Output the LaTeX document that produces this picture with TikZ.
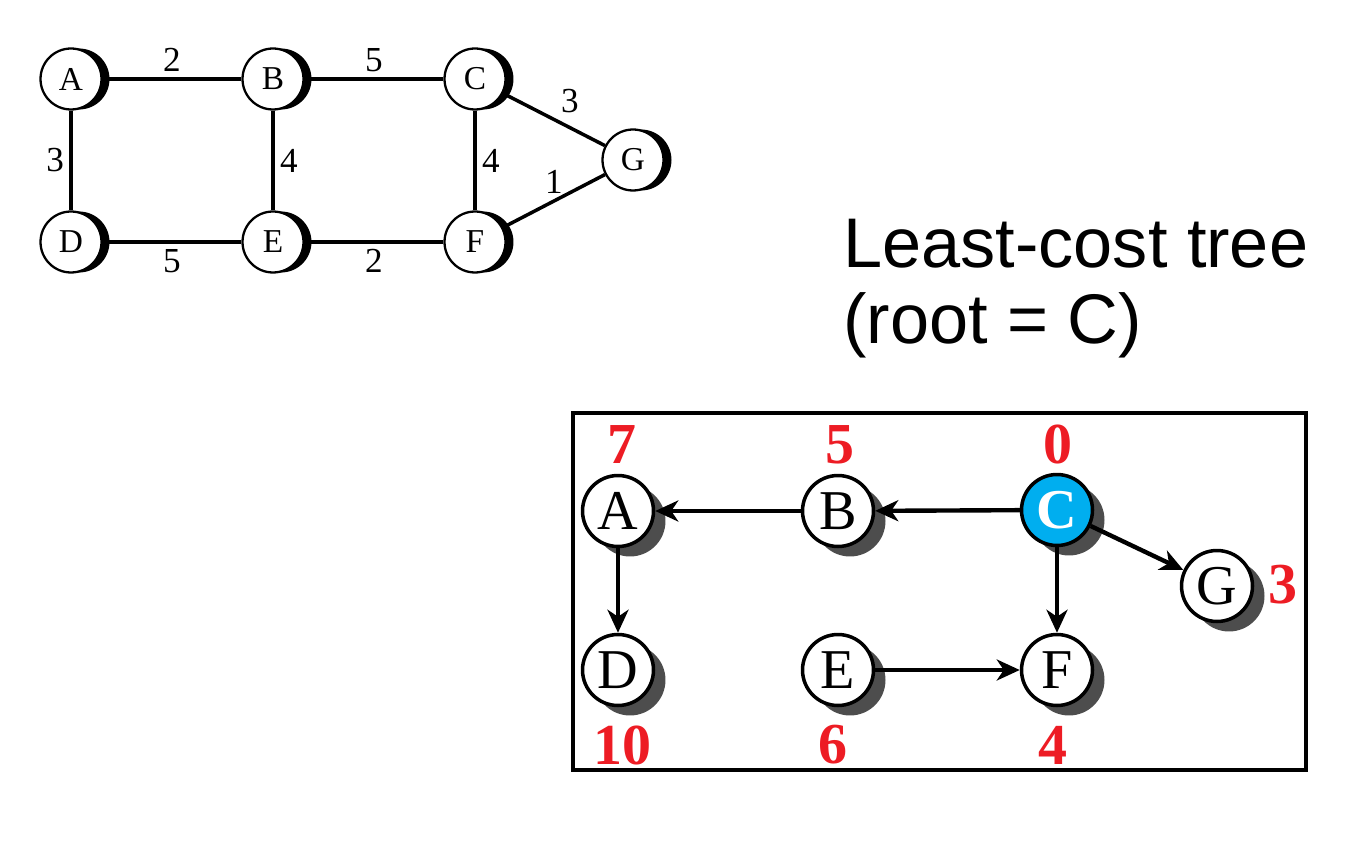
\documentclass[tikz,border=0pt]{standalone}
\usepackage{fontspec}
\setmainfont{Liberation Serif}
\newfontfamily\titlefont{Liberation Sans}
\usetikzlibrary{arrows.meta, positioning, shadows}
\definecolor{rootblue}{RGB}{0,174,239}
\definecolor{costred}{RGB}{237,28,36}
\definecolor{shade}{RGB}{77,77,77}

\tikzset{
  gnode/.style={circle, draw, line width=1.3pt, fill=white, minimum size=1.22cm, inner sep=0pt,
    font=\fontsize{19}{19}\selectfont,
    drop shadow={shadow xshift=0.16cm, shadow yshift=0cm, fill=black, opacity=1}},
  tnode/.style={circle, draw, line width=2pt, fill=white, minimum size=1.42cm, inner sep=0pt,
    font=\fontsize{32}{32}\selectfont,
    drop shadow={shadow xshift=0.24cm, shadow yshift=-0.2cm, fill=shade, opacity=1}},
  wlabel/.style={font=\fontsize{20}{20}\selectfont, inner sep=3pt},
  cost/.style={text=costred, font=\fontsize{33}{33}\selectfont\bfseries},
  link/.style={line width=2pt},
  tlink/.style={line width=2.5pt, -{Stealth[length=0.46cm, width=0.42cm, inset=0.14cm]}},
}

\begin{document}
\begin{tikzpicture}[x=0.02cm, y=-0.02cm]
\useasboundingbox (0,0) rectangle (1352,858);

% network
\node[gnode] (A) at (71,79) {A};
\node[gnode] (B) at (273,79) {B};
\node[gnode] (C) at (475,79) {C};
\node[gnode] (D) at (71,242) {D};
\node[gnode] (E) at (273,242) {E};
\node[gnode] (F) at (475,242) {F};
\node[gnode] (G) at (633,160) {G};

\draw[link] (A) -- node[wlabel, above] {2} (B);
\draw[link] (B) -- node[wlabel, above] {5} (C);
\draw[link] (A) -- node[wlabel, left] {3} (D);
\draw[link] (B) -- node[wlabel, right] {4} (E);
\draw[link] (C) -- node[wlabel, right] {4} (F);
\draw[link] (D) -- node[wlabel, below] {5} (E);
\draw[link] (E) -- node[wlabel, below] {2} (F);
\draw[link] (C) -- node[wlabel, above right] {3} (G);
\draw[link] (F) -- node[wlabel, above, pos=0.5] {1} (G);

% title
\node[anchor=base west, font=\titlefont\fontsize{40}{40}\selectfont, inner sep=0pt] (title1) at (843,268) {Least-cost tree};
\node[anchor=base west, font=\titlefont\fontsize{40}{40}\selectfont, inner sep=0pt] (title2) at (843,343) {(root = C)};

% tree
\draw[line width=2pt] (573,413) rectangle (1306,770);
\node[tnode] (tA) at (618,511) {A};
\node[tnode] (tB) at (838,511) {B};
\node[tnode, fill=rootblue, text=white, font=\fontsize{32}{32}\selectfont\bfseries] (tC) at (1057,510) {C};
\node[tnode] (tD) at (618,670) {D};
\node[tnode] (tE) at (838,670) {E};
\node[tnode] (tF) at (1057,670) {F};
\node[tnode] (tG) at (1217,586) {G};

\draw[tlink] (tC) -- (tB);
\draw[tlink] (tB) -- (tA);
\draw[tlink] (tA) -- (tD);
\draw[tlink] (tC) -- (tF);
\draw[tlink] (tC) -- (tG);
\draw[tlink] (tE) -- (tF);

\node[cost] (cA) at (622,445) {7};
\node[cost] (cB) at (840,445) {5};
\node[cost] (cC) at (1058,445) {0};
\node[cost] (cG) at (1283,585) {3};
\node[cost] (cD) at (622,745) {10};
\node[cost] (cE) at (833,745) {6};
\node[cost] (cF) at (1053,745) {4};
\end{tikzpicture}
\end{document}
